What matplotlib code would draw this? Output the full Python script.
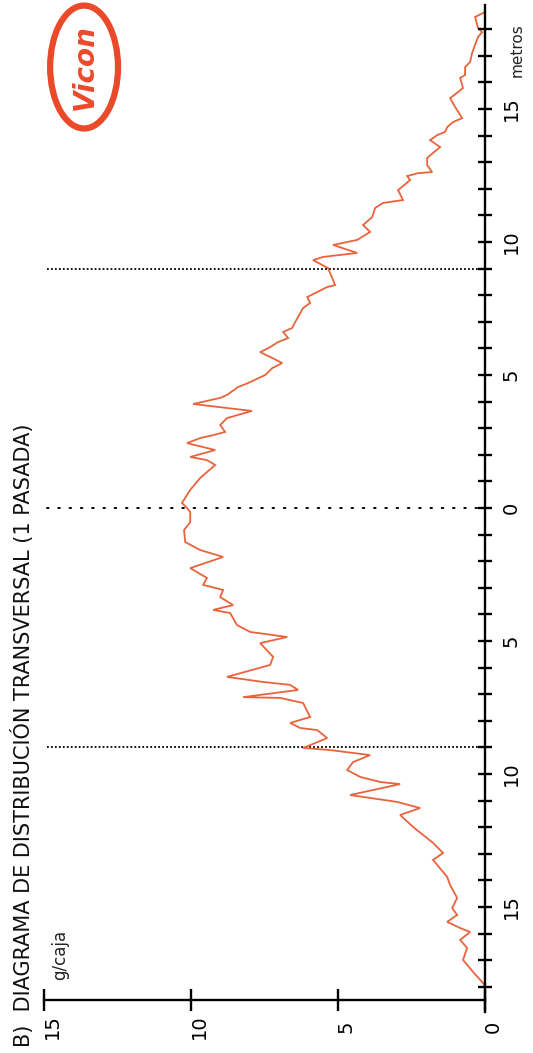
import matplotlib
matplotlib.use("Agg")
import matplotlib.pyplot as plt
from matplotlib.patches import Ellipse
import numpy as np

# ---- data (distance in metros, deposit in g/caja) ----
metros = [18.65, 18.46, 18.05, 17.89, 17.71, 17.41, 17.11, 16.77, 16.58, 16.28,
          16.17, 15.79, 15.64, 15.41, 15.08, 14.66, 14.51, 14.32, 14.14, 14.02,
          13.83, 13.57, 13.35, 13.16, 12.89, 12.63, 12.59, 12.48, 12.33, 11.95,
          11.58, 11.47, 11.28, 10.94, 10.64, 10.38, 10.08, 9.89, 9.59, 9.44,
          9.32, 9.02, 8.38, 8.31, 8.12, 7.93, 7.71, 7.52, 6.99, 6.77,
          6.62, 6.39, 6.24, 6.05, 5.86, 5.68, 5.45, 5.26, 5.00, 4.70,
          4.55, 4.25, 4.14, 3.91, 3.65, 3.38, 3.12, 2.86, 2.74, 2.63,
          2.44, 2.18, 1.92, 1.80, 1.62, 1.13, 0.68, 0.19, 0.00, -0.15,
          -0.53, -0.83, -1.28, -1.58, -1.84, -2.26, -2.63, -2.89, -3.08, -3.35,
          -3.65, -3.83, -3.95, -4.40, -4.66, -4.85, -5.08, -5.60, -5.90, -6.35,
          -6.54, -6.65, -6.84, -7.11, -7.14, -7.33, -7.86, -8.08, -8.27, -8.35,
          -8.65, -9.02, -9.10, -9.29, -9.55, -9.85, -10.11, -10.30, -10.38, -10.79,
          -10.90, -11.05, -11.28, -11.54, -11.99, -12.59, -12.97, -13.23, -13.87, -14.17,
          -14.66, -15.04, -15.30, -15.56, -15.79, -15.94, -16.24, -16.54, -16.99, -17.44,
          -17.86, -18.01]
g_caja = [0.00, 0.34, 0.24, 0.10, 0.24, 0.34, 0.44, 0.51, 0.68, 0.68,
          0.85, 0.75, 0.92, 1.19, 1.02, 0.78, 1.09, 1.29, 1.36, 1.63,
          1.87, 1.53, 1.77, 1.97, 1.97, 1.80, 2.28, 2.65, 2.55, 2.96,
          2.79, 3.47, 3.74, 3.84, 4.15, 3.91, 4.35, 5.17, 4.35, 5.51,
          5.85, 5.34, 5.10, 5.37, 5.71, 6.05, 5.95, 6.19, 6.46, 6.56,
          6.87, 6.70, 7.04, 7.31, 7.65, 7.31, 6.90, 7.24, 7.48, 8.06,
          8.40, 8.78, 9.01, 9.93, 7.93, 8.78, 9.01, 8.84, 9.25, 9.69,
          10.14, 9.18, 10.03, 9.46, 9.18, 9.69, 10.03, 10.31, 10.14, 10.03,
          10.03, 10.24, 10.20, 9.69, 8.91, 10.03, 9.46, 9.59, 8.91, 9.01,
          8.57, 9.25, 8.67, 8.44, 7.99, 6.73, 7.65, 7.21, 7.31, 8.78,
          7.55, 6.63, 6.36, 8.23, 6.97, 6.19, 5.95, 6.63, 6.29, 5.71,
          5.37, 6.19, 5.27, 3.91, 4.49, 4.69, 4.25, 3.57, 2.89, 4.59,
          3.91, 2.99, 2.21, 2.89, 2.45, 1.77, 1.43, 1.77, 1.29, 1.19,
          0.95, 1.12, 0.95, 1.29, 0.85, 0.51, 0.85, 0.61, 0.75, 0.41,
          0.07, 0.00]

metros_ticks = list(range(-18, 19))
metros_labels = [-15, -10, -5, 0, 5, 10, 15]
g_ticks = [0, 5, 10, 15]
ref_lines = [-9, 0, 9]

title = "B)  DIAGRAMA DE DISTRIBUCIÓN TRANSVERSAL (1 PASADA)"
curve_color = "#e8643c"
logo_color = "#ea4a2a"

fig = plt.figure(figsize=(5.33, 10.53), dpi=100)
ax = fig.add_axes([0, 0, 1, 1])
# chart is drawn rotated: g/caja runs right-to-left, metros bottom-to-top
ax.set_xlim(16.5, -1.63)
ax.set_ylim(-20.49, 19.10)
ax.axis("off")

# reference dotted lines
for r in ref_lines:
    if r == 0:
        ax.plot([14.9, 0], [r, r], color="black", lw=1.4,
                linestyle=(0, (0.8, 5.0)), dash_capstyle="round")
    else:
        ax.plot([14.9, 0], [r, r], color="black", lw=1.3, linestyle=(0, (1, 1.2)))

# curve
ax.plot(g_caja, metros, color=curve_color, lw=1.3, solid_joinstyle="miter")

# metros axis
ax.plot([0, 0], [-18.95, 18.9], color="black", lw=1.7)
ax.plot(np.zeros(len(metros_ticks)), metros_ticks, ls="none", marker="_",
        ms=10.5, mew=1.7, color="black")
for v in metros_labels:
    ax.text(-0.88, v, str(abs(v)), rotation=90, ha="center", va="center",
            fontsize=14, color="black")
ax.text(-1.09, 17.2, "metros", rotation=90, ha="center", va="center",
        fontsize=11, color="#222222")

# g/caja axis
ax.plot([0, 15], [-18.5, -18.5], color="black", lw=1.7)
ax.plot(g_ticks, [-18.5] * len(g_ticks), ls="none", marker="|", ms=16,
        mew=1.7, color="black")
for v in g_ticks:
    ax.text(v - 0.27, -19.5, str(v), rotation=90, ha="center", va="center",
            fontsize=14, color="black")
ax.text(14.45, -16.8, "g/caja", rotation=90, ha="center", va="center",
        fontsize=12, color="#222222")

# title
ax.text(15.75, -20.25, title, rotation=90, ha="center", va="bottom",
        fontsize=15, color="#111111")

# logo
ax.add_patch(Ellipse((13.64, 16.58), width=2.31, height=4.62, fill=False,
                     ec=logo_color, lw=4.5))
ax.text(13.60, 16.58, "Vicon", rotation=90, ha="center", va="center",
        fontsize=20, fontweight="heavy", fontstyle="italic", color=logo_color)

fig.savefig("out.png", dpi=100)
